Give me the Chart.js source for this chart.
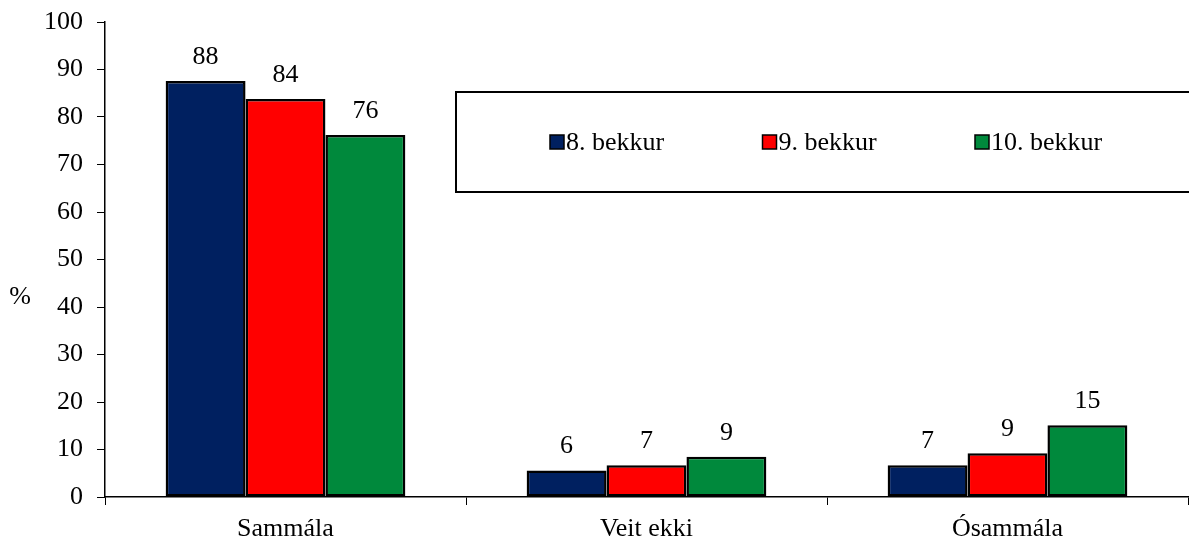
<!DOCTYPE html>
<html>
<head>
<meta charset="utf-8">
<script src="https://cdn.jsdelivr.net/npm/chart.js@4/dist/chart.umd.min.js"></script>
<style>
  html, body { margin: 0; padding: 0; background: #fff; }
  #wrap { width: 1189px; height: 543px; }
</style>
</head>
<body>
<div id="wrap"><canvas id="myChart"></canvas></div>
<script>
const categories = ["Sammála", "Veit ekki", "Ósammála"];
const seriesNames = ["8. bekkur", "9. bekkur", "10. bekkur"];
const grade8 = [87.6, 5.6, 6.7];
const grade9 = [83.8, 6.7, 9.2];
const grade10 = [76.2, 8.5, 15.1];
const colors = ["#002060", "#FF0000", "#00893C"];

const FONT = "'Liberation Serif', 'Times New Roman', serif";

// value labels above each bar
const barLabels = {
    id: 'barLabels',
    afterDatasetsDraw(chart) {
        const ctx = chart.ctx;
        ctx.save();
        ctx.font = "26px " + FONT;
        ctx.fillStyle = "#000";
        ctx.textAlign = "center";
        ctx.textBaseline = "alphabetic";
        chart.data.datasets.forEach((ds, i) => {
            chart.getDatasetMeta(i).data.forEach((bar, j) => {
                ctx.fillText(Math.round(ds.data[j]), bar.x, bar.y - 17);
            });
        });
        ctx.restore();
    }
};

// axis title "%" and boxed legend inside the plot
const extras = {
    id: 'extras',
    afterDraw(chart) {
        const ctx = chart.ctx;
        ctx.save();
        ctx.font = "26px " + FONT;
        ctx.fillStyle = "#000";
        ctx.textAlign = "center";
        ctx.textBaseline = "middle";
        ctx.fillText("%", 20, 297);

        // legend box
        ctx.lineWidth = 2;
        ctx.strokeStyle = "#000";
        ctx.strokeRect(456, 92, 740, 100);
        ctx.textAlign = "left";
        let x = 550;
        chart.data.datasets.forEach((ds) => {
            ctx.fillStyle = ds.backgroundColor;
            ctx.fillRect(x, 135, 14, 14);
            ctx.lineWidth = 1.5;
            ctx.strokeRect(x, 135, 14, 14);
            ctx.fillStyle = "#000";
            ctx.fillText(ds.label, x + 16, 143);
            x += 212.5;
        });
        ctx.restore();
    }
};

new Chart('myChart', {
    type: 'bar',
    data: {
        labels: categories,
        datasets: [
            { label: seriesNames[0], data: grade8, backgroundColor: colors[0] },
            { label: seriesNames[1], data: grade9, backgroundColor: colors[1] },
            { label: seriesNames[2], data: grade10, backgroundColor: colors[2] }
        ].map(d => Object.assign(d, {
            borderColor: '#000',
            borderWidth: 2.5,
            borderSkipped: false,
            categoryPercentage: 0.664,
            barPercentage: 1
        }))
    },
    options: {
        responsive: true,
        maintainAspectRatio: false,
        animation: false,
        layout: { padding: { top: 22, right: 1, left: 0, bottom: 0 } },
        plugins: {
            legend: { display: false },
            tooltip: { enabled: false }
        },
        scales: {
            x: {
                grid: { display: true, drawOnChartArea: false, tickLength: 8, color: '#000', offset: true },
                border: { color: '#000', width: 1.5 },
                ticks: { color: '#000', font: { family: FONT, size: 26 }, padding: 9 },
                afterFit(scale) { scale.height = 46; }
            },
            y: {
                min: 0, max: 100,
                grid: { display: true, drawOnChartArea: false, tickLength: 8, color: '#000' },
                border: { color: '#000', width: 1.5 },
                ticks: { stepSize: 10, color: '#000', font: { family: FONT, size: 26 }, padding: 14 },
                afterFit(scale) {
                    scale.width = 105;
                    scale.paddingTop = 0;
                    scale.paddingBottom = 0;
                }
            }
        }
    },
    plugins: [barLabels, extras]
});
</script>
</body>
</html>
